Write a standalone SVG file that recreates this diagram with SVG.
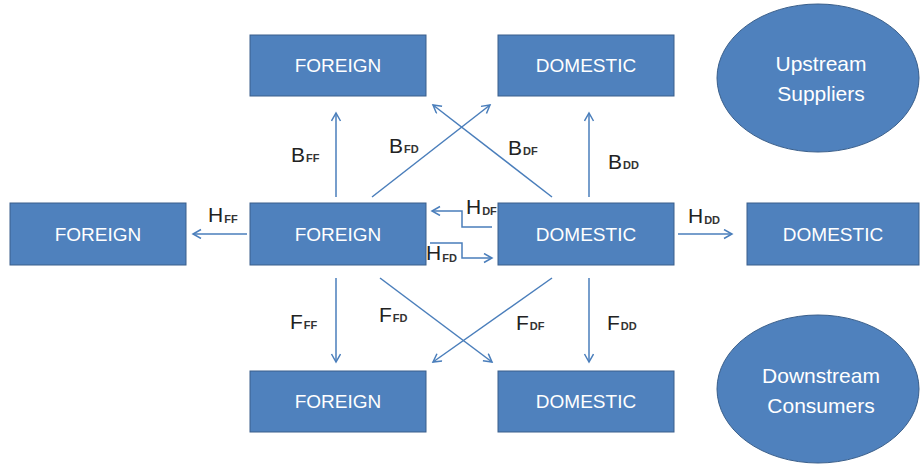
<svg xmlns="http://www.w3.org/2000/svg" width="920" height="467" viewBox="0 0 920 467">
<defs>
<marker id="arr" markerUnits="userSpaceOnUse" markerWidth="12" markerHeight="12" refX="9" refY="5" orient="auto">
<path d="M1,0.5 L9,5 L1,9.5" fill="none" stroke="#4A7EBB" stroke-width="1.5"/>
</marker>
<style>
.box{fill:#4F81BD;stroke:#3A5F8B;stroke-width:1}
.bt{font-family:"Liberation Sans",Arial,sans-serif;font-size:19px;fill:#fff;text-anchor:middle}
.et{font-family:"Liberation Sans",Arial,sans-serif;font-size:21px;fill:#fff;text-anchor:middle}
.c{fill:none;stroke:#4A7EBB;stroke-width:1.5;marker-end:url(#arr)}
.lb{font-family:"Liberation Sans",Arial,sans-serif;font-size:21px;fill:#222}
.sb{font-size:11px;font-weight:bold;fill:#333}
</style>
</defs>
<rect width="920" height="467" fill="#fff"/>
<g id="connectors">
<line class="c" x1="336" y1="197" x2="336" y2="113"/>
<line class="c" x1="372" y1="197" x2="490" y2="105"/>
<line class="c" x1="552" y1="197" x2="433" y2="105"/>
<line class="c" x1="589" y1="197" x2="589" y2="113"/>
<polyline class="c" points="492,227 462,227 462,211 432,211"/>
<polyline class="c" points="430,243 462,243 462,258 492,258"/>
<line class="c" x1="247" y1="234" x2="193" y2="234"/>
<line class="c" x1="678" y1="234" x2="732" y2="234"/>
<line class="c" x1="336" y1="278" x2="336" y2="362"/>
<line class="c" x1="380" y1="278" x2="492" y2="362"/>
<line class="c" x1="552" y1="278" x2="433" y2="362"/>
<line class="c" x1="589" y1="278" x2="589" y2="362"/>
</g>
<g id="labels">
<text class="lb" x="291" y="162">B<tspan class="sb" dx="1">FF</tspan></text>
<text class="lb" x="389" y="153">B<tspan class="sb" dx="1">FD</tspan></text>
<text class="lb" x="508" y="155">B<tspan class="sb" dx="1">DF</tspan></text>
<text class="lb" x="608" y="169">B<tspan class="sb" dx="1">DD</tspan></text>
<text class="lb" x="466" y="214">H<tspan class="sb" dx="1" dy="1">DF</tspan></text>
<text class="lb" x="426" y="260">H<tspan class="sb" dx="1" dy="2">FD</tspan></text>
<text class="lb" x="208" y="222">H<tspan class="sb" dx="1" dy="1">FF</tspan></text>
<text class="lb" x="688" y="223">H<tspan class="sb" dx="1" dy="1">DD</tspan></text>
<text class="lb" x="290" y="329">F<tspan class="sb" dx="1">FF</tspan></text>
<text class="lb" x="379" y="322">F<tspan class="sb" dx="1">FD</tspan></text>
<text class="lb" x="516" y="330">F<tspan class="sb" dx="1">DF</tspan></text>
<text class="lb" x="607" y="330">F<tspan class="sb" dx="1">DD</tspan></text>
</g>
<g id="top-foreign"><rect class="box" x="250" y="35" width="176" height="61"/><text class="bt" x="338" y="72">FOREIGN</text></g>
<g id="top-domestic"><rect class="box" x="498" y="35" width="176" height="61"/><text class="bt" x="586" y="72">DOMESTIC</text></g>
<g id="left-foreign"><rect class="box" x="10" y="203" width="176" height="62"/><text class="bt" x="98" y="241">FOREIGN</text></g>
<g id="mid-foreign"><rect class="box" x="250" y="203" width="176" height="62"/><text class="bt" x="338" y="241">FOREIGN</text></g>
<g id="mid-domestic"><rect class="box" x="498" y="203" width="176" height="62"/><text class="bt" x="586" y="241">DOMESTIC</text></g>
<g id="right-domestic"><rect class="box" x="747" y="203" width="172" height="62"/><text class="bt" x="833" y="241">DOMESTIC</text></g>
<g id="bottom-foreign"><rect class="box" x="250" y="371" width="176" height="61"/><text class="bt" x="338" y="408">FOREIGN</text></g>
<g id="bottom-domestic"><rect class="box" x="498" y="371" width="176" height="61"/><text class="bt" x="586" y="408">DOMESTIC</text></g>
<g id="upstream"><ellipse class="box" cx="818" cy="78" rx="101" ry="74"/><text class="et" x="821" y="71">Upstream</text><text class="et" x="821" y="101">Suppliers</text></g>
<g id="downstream"><ellipse class="box" cx="818" cy="389" rx="101" ry="74"/><text class="et" x="821" y="383">Downstream</text><text class="et" x="821" y="413">Consumers</text></g>
</svg>
